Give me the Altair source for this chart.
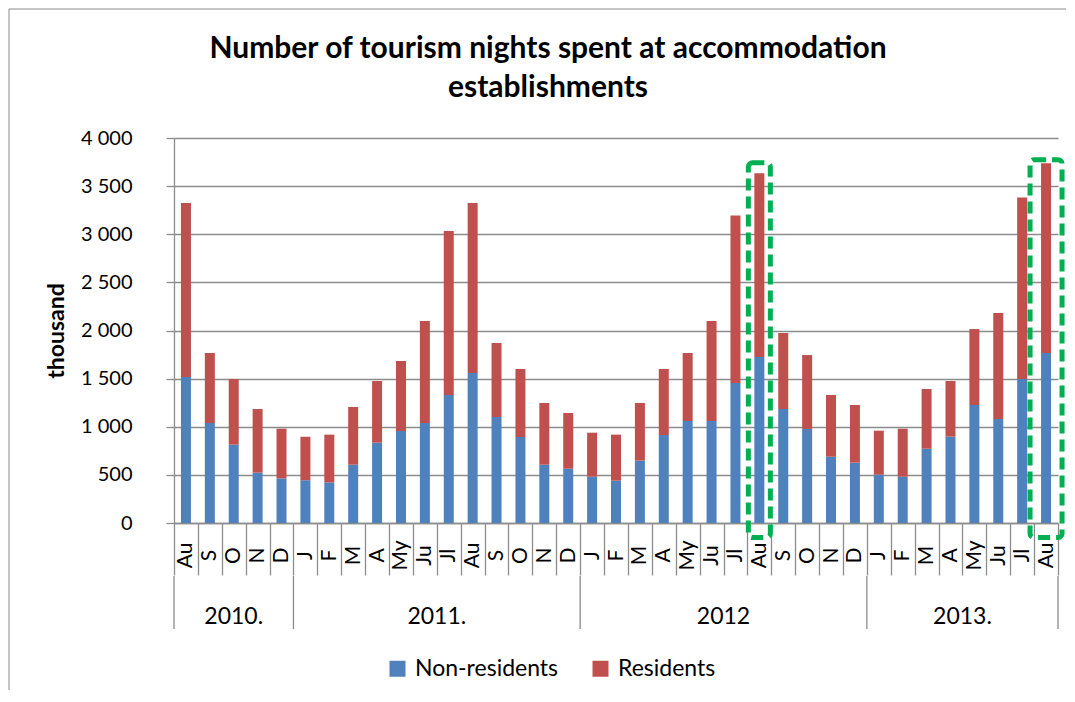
import altair as alt
import pandas as pd

# ---------------- data (thousand nights) ----------------
months = ["Au", "S", "O", "N", "D",
          "J", "F", "M", "A", "My", "Ju", "Jl", "Au", "S", "O", "N", "D",
          "J", "F", "M", "A", "My", "Ju", "Jl", "Au", "S", "O", "N", "D",
          "J", "F", "M", "A", "My", "Ju", "Jl", "Au"]
years = ["2010"] * 5 + ["2011"] * 12 + ["2012"] * 12 + ["2013"] * 8

non_residents = [1517, 1039, 814, 523, 464,
                 443, 422, 606, 835, 956, 1039, 1330, 1558, 1101, 893, 606, 564,
                 481, 440, 648, 914, 1060, 1060, 1454, 1725, 1184, 977, 689, 627,
                 502, 481, 772, 897, 1226, 1080, 1496, 1766]
residents = [1808, 727, 682, 661, 516,
             454, 496, 599, 640, 727, 1060, 1704, 1767, 769, 707, 641, 579,
             457, 478, 599, 686, 706, 1039, 1742, 1908, 790, 768, 641, 599,
             457, 499, 620, 578, 789, 1102, 1887, 1971]

series = ["Non-residents", "Residents"]
colors = ["#4F81BD", "#C0504D"]

year_labels = ["2010.", "2011.", "2012", "2013."]
year_anchor = ["2010|O", "2011|Jl", "2012|Jl", "2013|My"]   # month at group centre
year_anchor_band = [0.5, 0, 0, 0]
year_starts = ["2010|Au", "2011|J", "2012|J", "2013|J"]
year_end = ["2013|Au"]

highlight_keys = ["2012|Au", "2013|Au"]
highlight_low = [-150, -150]
highlight_high = [3743, 3775]

y_ticks = [0, 500, 1000, 1500, 2000, 2500, 3000, 3500, 4000]

# ---------------- styling ----------------
FONT = "Lato"
GRAY = "#8C8C8C"
GREEN = "#00B050"

keys = [f"{y}|{m}" for y, m in zip(years, months)]

rows = []
for i, k in enumerate(keys):
    rows.append({"key": k, "series": series[0], "value": non_residents[i], "ord": 0})
    rows.append({"key": k, "series": series[1], "value": residents[i], "ord": 1})
bars_df = pd.DataFrame(rows)

xscale = alt.Scale(domain=keys, paddingInner=0, paddingOuter=0)


def xenc(axis=None, band=None):
    kw = dict(field="key", type="nominal", scale=xscale, title=None)
    if axis is not None:
        kw["axis"] = axis
    if band is not None:
        kw["bandPosition"] = band
    return alt.X(**kw)


x_axis = alt.Axis(
    labelExpr="split(datum.value, '|')[1]",
    labelAngle=270, labelAlign="center", labelBaseline="middle",
    labelPadding=-20, tickBand="extent", tickSize=52,
    tickColor=GRAY, tickWidth=1.3, domainColor=GRAY, domainWidth=1.3,
    labelFontSize=21, labelColor="black", labelFont=FONT,
    labelOverlap=False, grid=False, title=None,
)
y_axis = alt.Axis(
    values=y_ticks,
    labelExpr="replace(format(datum.value, ','), ',', ' ')",
    tickSize=8, tickColor=GRAY, tickWidth=1.3,
    labelPadding=34, labelFontSize=20, labelColor="black", labelFont=FONT,
    domainColor=GRAY, domainWidth=1.3,
    grid=True, gridColor=GRAY, gridWidth=1.3,
    title="thousand", titleFontSize=23, titleFontWeight="bold",
    titleColor="black", titleFont=FONT, titlePadding=12,
)
yscale = alt.Scale(domain=[0, 4000], nice=False)

bars = alt.Chart(bars_df).mark_bar(size=10).encode(
    x=xenc(axis=x_axis),
    y=alt.Y("value:Q", stack="zero", scale=yscale, axis=y_axis, title="thousand"),
    color=alt.Color(
        "series:N",
        scale=alt.Scale(domain=series, range=colors),
        legend=alt.Legend(
            title=None, orient="none", legendX=212, legendY=519,
            direction="horizontal", symbolType="square", symbolSize=256,
            symbolStrokeWidth=0, labelFontSize=23, labelOffset=6,
            columnPadding=30, padding=0, labelColor="black", labelFont=FONT,
        ),
    ),
    order=alt.Order("ord:Q"),
)

hl_df = pd.DataFrame({"key": highlight_keys, "lo": highlight_low, "hi": highlight_high})


def box(i, width):
    return alt.Chart(hl_df.iloc[[i]]).mark_bar(
        size=width, fillOpacity=0, stroke=GREEN, strokeWidth=5,
        strokeDash=[12, 6], cornerRadius=4,
    ).encode(
        x=xenc(),
        y=alt.Y("lo:Q", scale=yscale, title="thousand"),
        y2="hi:Q",
    )


box1 = box(0, 22)
box2 = box(1, 32)

yl_df = pd.DataFrame({"key": year_anchor, "label": year_labels, "band": year_anchor_band})


def year_text(bp):
    d = yl_df[yl_df["band"] == bp]
    return alt.Chart(d).mark_text(
        fontSize=23, font=FONT, color="black", baseline="middle", align="center"
    ).encode(x=xenc(band=bp), y=alt.value(479), text="label:N")


yl_a = year_text(0.5)
yl_b = year_text(0)

sep_df_a = pd.DataFrame({"key": year_starts})
sep_df_b = pd.DataFrame({"key": year_end})


def sep(d, bp):
    return alt.Chart(d).mark_rule(color=GRAY, strokeWidth=1.3).encode(
        x=xenc(band=bp), y=alt.value(438), y2=alt.value(491)
    )


sep_a = sep(sep_df_a, 0)
sep_b = sep(sep_df_b, 1)

one = pd.DataFrame({"f": [0]})
frame_left = alt.Chart(one).mark_rule(color="#8A8A8A", strokeWidth=1).encode(
    x=alt.value(-165), y=alt.value(-129), y2=alt.value(552)
)
frame_top = alt.Chart(one).mark_rule(color="#8A8A8A", strokeWidth=1).encode(
    x=alt.value(-165), x2=alt.value(892), y=alt.value(-129)
)

chart = alt.layer(
    bars, box1, box2, yl_a, yl_b, sep_a, sep_b, frame_left, frame_top
).properties(
    width=884, height=385, padding=0,
    title=alt.TitleParams(
        text=["Number of tourism nights spent at accommodation", "establishments"],
        fontSize=30, font=FONT, fontWeight="bold", color="black",
        anchor="middle", frame="group", baseline="top", lineHeight=39,
        offset=0, dx=-68, dy=94,
    ),
).configure(font=FONT).configure_view(stroke=None)

chart.save("out.html", embed_options={"renderer": "svg", "actions": False})
